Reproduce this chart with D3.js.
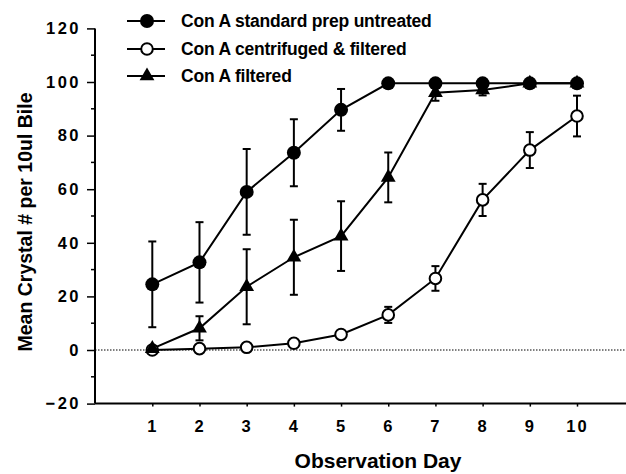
<!DOCTYPE html>
<html><head><meta charset="utf-8">
<script src="https://cdn.jsdelivr.net/npm/d3@7"></script>
<style>
html,body{margin:0;padding:0;background:#fff;}
text{font-family:"Liberation Sans",Arial,Helvetica,sans-serif;font-weight:bold;fill:#000;}
</style></head>
<body>
<svg id="chart" width="626" height="474"></svg>
<script>
const days = [1,2,3,4,5,6,7,8,9,10];
const yTicks = [-20,0,20,40,60,80,100,120];
const yMinorTicks = [-10,10,30,50,70,90,110];
const seriesNames = ["Con A standard prep untreated","Con A centrifuged & filtered","Con A filtered"];
const standard = [24.5, 32.7, 59, 73.6, 89.6, 99.5, 99.5, 99.5, 99.5, 99.5];
const standardErr = [16, 15, 16, 12.5, 7.8, 0, 0, 0, 0, 0];
const centrifuged = [0, 0.5, 1, 2.5, 5.8, 13.1, 26.7, 56, 74.6, 87.3];
const centrifugedErr = [0, 0, 0, 0, 0, 3, 4.6, 6, 6.7, 7.6];
const filtered = [0.5, 8.1, 23.6, 34.6, 42.5, 64.4, 96, 97, 99.5, 99.5];
const filteredErr = [0, 4.5, 14, 14, 13, 9.3, 3, 2, 0, 0];

const svg = d3.select("#chart");
const x = d3.scaleLinear().domain([1,10]).range([152.3,577]);
const y = d3.scaleLinear().domain([-20,120]).range([403.6,28.4]);
const xLeft = 95, xRight = 626;

// zero dotted line
svg.append("line").attr("x1",xLeft).attr("x2",xRight).attr("y1",y(0)).attr("y2",y(0))
  .attr("stroke","#000").attr("stroke-width",1).attr("stroke-dasharray","1.5,1.5");

// y axis
const yAxis = d3.axisLeft(y).tickValues(yTicks).tickSize(8).tickPadding(6).tickFormat(d3.format("d"));
const gy = svg.append("g").attr("transform",`translate(${xLeft},0)`).call(yAxis);
gy.select(".domain").attr("stroke-width",2).attr("d",`M0,${y(120)}V${y(-20)}`);
gy.selectAll(".tick line").attr("stroke-width",1.5);
gy.selectAll(".tick text").attr("font-size",16.5).attr("letter-spacing","2.5px").attr("font-family","Liberation Sans, Arial, sans-serif").attr("font-weight","bold").attr("fill","#000");
gy.selectAll(".minor").data(yMinorTicks).enter().append("line")
  .attr("x1",-4).attr("x2",0).attr("y1",d=>y(d)).attr("y2",d=>y(d)).attr("stroke","#000").attr("stroke-width",1.5);

// x axis
const xAxis = d3.axisBottom(x).tickValues(days).tickSize(3).tickPadding(14).tickFormat(d3.format("d"));
const gx = svg.append("g").attr("transform",`translate(0,${y(-20)})`).call(xAxis);
gx.select(".domain").attr("stroke-width",2).attr("d",`M${xLeft},0H${xRight}`);
gx.selectAll(".tick line").attr("stroke-width",1.5);
gx.selectAll(".tick text").attr("font-size",16.5).attr("letter-spacing","2px").attr("font-family","Liberation Sans, Arial, sans-serif").attr("font-weight","bold").attr("fill","#000");

// titles
svg.append("text").attr("x",378).attr("y",468).attr("text-anchor","middle").attr("font-size",21).text("Observation Day");
svg.append("text").attr("transform","translate(32,222) rotate(-90)").attr("text-anchor","middle").attr("font-size",19.5).text("Mean Crystal # per 10ul Bile");

const series = [
  {vals: standard, err: standardErr, sym: "fcircle"},
  {vals: centrifuged, err: centrifugedErr, sym: "ocircle"},
  {vals: filtered, err: filteredErr, sym: "triangle"}
];

// error bars
series.forEach(s => {
  const g = svg.append("g").attr("stroke","#000").attr("stroke-width",2).attr("fill","none");
  days.forEach((d,i) => {
    if (!s.err[i]) return;
    const hi = y(s.vals[i] + s.err[i]), lo = y(s.vals[i] - s.err[i]), cx = x(d);
    g.append("line").attr("x1",cx).attr("x2",cx).attr("y1",hi).attr("y2",lo);
    g.append("line").attr("x1",cx-4).attr("x2",cx+4).attr("y1",hi).attr("y2",hi);
    g.append("line").attr("x1",cx-4).attr("x2",cx+4).attr("y1",lo).attr("y2",lo);
  });
});

// lines
const line = d3.line().x((d,i)=>x(days[i])).y(d=>y(d));
[filtered, centrifuged, standard].forEach(v => {
  svg.append("path").attr("d",line(v)).attr("fill","none").attr("stroke","#000").attr("stroke-width",2);
});

function drawSym(g, type, cx, cy) {
  if (type === "fcircle") {
    g.append("circle").attr("cx",cx).attr("cy",cy).attr("r",7).attr("fill","#000");
  } else if (type === "ocircle") {
    g.append("circle").attr("cx",cx).attr("cy",cy).attr("r",5.8).attr("fill","#fff").attr("stroke","#000").attr("stroke-width",2);
  } else {
    g.append("path").attr("d",d3.symbol().type(d3.symbolTriangle).size(95)()).attr("transform",`translate(${cx},${cy})`).attr("fill","#000");
  }
}

// markers
[series[1], series[2], series[0]].forEach(s => {
  const g = svg.append("g");
  days.forEach((d,i) => drawSym(g, s.sym, x(d), y(s.vals[i])));
});

// legend
const legY = [21, 49, 76];
series.forEach((s,i) => {
  const g = svg.append("g");
  g.append("line").attr("x1",127).attr("x2",165).attr("y1",legY[i]).attr("y2",legY[i]).attr("stroke","#000").attr("stroke-width",2);
  drawSym(g, s.sym, 147, legY[i]);
  g.append("text").attr("x",181).attr("y",legY[i]).attr("dy","0.35em").attr("font-size",17.5).attr("letter-spacing","-0.2px").text(seriesNames[i]);
});
</script>
</body></html>
